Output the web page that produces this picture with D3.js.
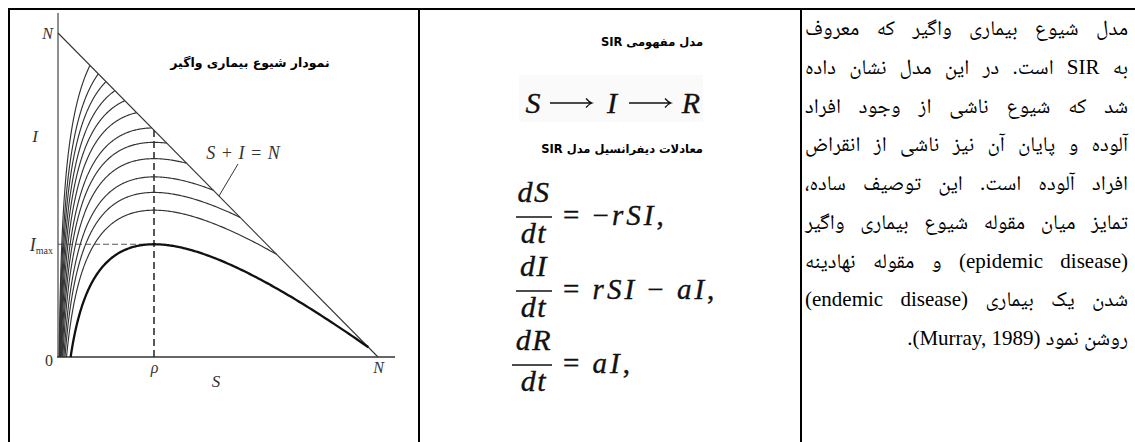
<!DOCTYPE html>
<html>
<head>
<meta charset="utf-8">
<script src="https://cdn.jsdelivr.net/npm/d3@7"></script>
<style>
  body { margin: 0; background: #fff; }
  #page { position: relative; width: 1135px; height: 442px; overflow: hidden; }
  #page svg { position: absolute; left: 0; top: 0; }
  .fa { position: absolute; direction: rtl; white-space: nowrap; color: #000; }
  .head { font-family: "DejaVu Sans", sans-serif; font-weight: bold; }
  .para { font-family: "Liberation Serif", "Noto Naskh Arabic", "DejaVu Sans", serif; text-align: right; }
</style>
</head>
<body>
<div id="page"></div>
<script>
// phase plane, all values as a fraction of N
var rho = 0.3;
var thinStarts = [0.10, 0.126, 0.15, 0.178, 0.209, 0.246, 0.293, 0.34, 0.402, 0.485, 0.569, 0.683];
var thickStart = 0.97;
var yTickLabels = ["0", "I", "N"];      // 0, I_max, N
var xTickLabels = ["ρ", "N"];
var chartTitle = "نمودار شیوع بیماری واگیر";
var lineLabel = "S + I = N";

// middle cell
var headings = ["مدل مفهومی SIR", "معادلات دیفرانسیل مدل SIR"];
var flow = ["S", "I", "R"];
var eqNum = ["dS", "dI", "dR"];
var eqRhs = ["= −rSI,", "= rSI − aI,", "= aI,"];

// right cell
var paraLines = [
  "مدل شیوع بیماری واگیر که معروف",
  "به SIR است. در این مدل نشان داده",
  "شد که شیوع ناشی از وجود افراد",
  "آلوده و پایان آن نیز ناشی از انقراض",
  "افراد آلوده است. این توصیف ساده،",
  "تمایز میان مقوله شیوع بیماری واگیر",
  "(epidemic disease) و مقوله نهادینه",
  "شدن یک بیماری (endemic disease)",
  "روشن نمود (Murray, 1989)."
];

var page = d3.select("#page");
var svg = page.append("svg").attr("width", 1135).attr("height", 442);

// table rules
svg.append("path")
  .attr("d", "M9,442V9H1135M419,9V442M801,9V442")
  .attr("fill", "none").attr("stroke", "#000").attr("stroke-width", 2);

// ---------- left cell: S-I phase plane ----------
var x = d3.scaleLinear().domain([0, 1]).range([58, 378]);
var y = d3.scaleLinear().domain([0, 1]).range([357, 33]);

// SIR phase relation: I = S0 + I0 - S + rho*ln(S/S0), starting on S + I = N
function phaseI(s, s0) { return 1 - s + rho * Math.log(s / s0); }

function trajectory(s0) {
  var lo = 1e-9, hi = Math.min(s0, rho);
  for (var k = 0; k < 60; k++) {
    var m = (lo + hi) / 2;
    if (phaseI(m, s0) > 0) hi = m; else lo = m;
  }
  return d3.range(0, 301).map(function(i) {
    var s = s0 * Math.pow(hi / s0, i / 300);
    return [s, Math.max(0, phaseI(s, s0))];
  });
}

var iMax = 1 - rho + rho * Math.log(rho / thickStart);

var line = d3.line()
  .x(function(d) { return x(d[0]); })
  .y(function(d) { return y(d[1]); });

var chart = svg.append("g").attr("class", "chart");

// axes lines
chart.append("line")
  .attr("x1", x(0)).attr("x2", x(0)).attr("y1", 13).attr("y2", y(0))
  .attr("stroke", "#333").attr("stroke-width", 1.1);
chart.append("line")
  .attr("x1", x(0) - 1).attr("x2", 395).attr("y1", y(0)).attr("y2", y(0))
  .attr("stroke", "#333").attr("stroke-width", 1.6);

// S + I = N
chart.append("path")
  .attr("d", line([[0, 1], [1, 0]]))
  .attr("fill", "none").attr("stroke", "#333").attr("stroke-width", 1.1);

// dashed guides
chart.append("line")
  .attr("x1", x(rho)).attr("x2", x(rho)).attr("y1", y(0)).attr("y2", y(1 - rho))
  .attr("stroke", "#222").attr("stroke-width", 1.5).attr("stroke-dasharray", "7,4");
chart.append("line")
  .attr("x1", x(0)).attr("x2", x(rho)).attr("y1", y(iMax)).attr("y2", y(iMax))
  .attr("stroke", "#444").attr("stroke-width", 0.9).attr("stroke-dasharray", "6,3");

// trajectories
chart.selectAll(".traj")
  .data(thinStarts)
  .enter().append("path")
  .attr("class", "traj")
  .attr("d", function(d) { return line(trajectory(d)); })
  .attr("fill", "none").attr("stroke", "#333").attr("stroke-width", 1.15);

chart.append("path")
  .attr("d", line(trajectory(thickStart)))
  .attr("fill", "none").attr("stroke", "#111").attr("stroke-width", 2.3);

// y tick labels
var yAxis = d3.axisLeft(y)
  .tickValues([0, iMax, 1])
  .tickSize(0).tickPadding(5)
  .tickFormat(function(d, i) { return yTickLabels[i]; });
var gy = chart.append("g").attr("transform", "translate(" + x(0) + ",0)").call(yAxis);
gy.select(".domain").remove();
gy.selectAll("text")
  .attr("font-family", "Liberation Serif, serif")
  .attr("font-size", function(d, i) { return i === 1 ? 18 : 16; })
  .attr("fill", "#333")
  .attr("font-style", function(d, i) { return i === 0 ? "normal" : "italic"; })
  .attr("dy", function(d, i) { return i === 0 ? "0.5em" : "0.32em"; });
gy.selectAll("text").filter(function(d, i) { return i === 1; })
  .append("tspan").attr("font-style", "normal").attr("font-size", 10).attr("dy", 3).text("max");

// x tick labels
var xAxis = d3.axisBottom(x)
  .tickValues([rho, 1])
  .tickSize(0).tickPadding(5)
  .tickFormat(function(d, i) { return xTickLabels[i]; });
var gx = chart.append("g").attr("transform", "translate(0," + y(0) + ")").call(xAxis);
gx.select(".domain").remove();
gx.selectAll("text")
  .attr("font-family", "Liberation Serif, serif").attr("font-size", 16)
  .attr("font-style", "italic").attr("fill", "#333");

// axis titles
chart.append("text").attr("x", 35).attr("y", 142).attr("text-anchor", "middle")
  .attr("font-family", "Liberation Serif, serif").attr("font-size", 17)
  .attr("font-style", "italic").attr("fill", "#333").text("I");
chart.append("text").attr("x", 216).attr("y", 387).attr("text-anchor", "middle")
  .attr("font-family", "Liberation Serif, serif").attr("font-size", 17)
  .attr("font-style", "italic").attr("fill", "#333").text("S");

// line label with leader
chart.append("text").attr("x", 243).attr("y", 159).attr("text-anchor", "middle")
  .attr("font-family", "Liberation Serif, serif").attr("font-size", 18)
  .attr("font-style", "italic").attr("fill", "#333").attr("word-spacing", 1)
  .text(lineLabel);
chart.append("line")
  .attr("x1", 238).attr("y1", 164).attr("x2", x(0.503)).attr("y2", y(0.497))
  .attr("stroke", "#333").attr("stroke-width", 1);

// title
chart.append("text").attr("x", 250).attr("y", 67).attr("text-anchor", "middle")
  .attr("direction", "rtl")
  .attr("font-family", "DejaVu Sans, sans-serif").attr("font-weight", "bold")
  .attr("font-size", 12.5).attr("fill", "#000")
  .text(chartTitle);

// ---------- middle cell ----------
page.selectAll(".head")
  .data(headings)
  .enter().append("div")
  .attr("class", "fa head")
  .style("right", (1135 - 703) + "px")
  .style("top", function(d, i) { return (i === 0 ? 33 : 140) + "px"; })
  .style("font-size", "11.5px")
  .style("line-height", "18px")
  .text(function(d) { return d; });

var mid = svg.append("g").attr("class", "mid")
  .attr("font-family", "Liberation Serif, serif").attr("fill", "#111");

mid.append("rect").attr("x", 519).attr("y", 75).attr("width", 184).attr("height", 47)
  .attr("fill", "#fafafa");

var flowX = d3.scalePoint().domain(flow).range([533, 691]);
mid.selectAll(".flow")
  .data(flow)
  .enter().append("text")
  .attr("class", "flow")
  .attr("x", function(d) { return flowX(d); })
  .attr("y", 113).attr("text-anchor", "middle")
  .attr("font-size", 30).attr("font-style", "italic")
  .attr("stroke", "#111").attr("stroke-width", 0.3)
  .text(function(d) { return d; });

// long arrows between the letters
mid.selectAll(".arrow")
  .data(flow.slice(0, -1))
  .enter().append("path")
  .attr("class", "arrow")
  .attr("d", function(d, i) {
    var a = flowX(flow[i]) + 17, b = flowX(flow[i + 1]) - 20, yy = 103;
    return "M" + a + "," + yy + "H" + b +
      "M" + (b - 6) + "," + (yy - 4.5) + "Q" + (b - 3) + "," + (yy - 1) + " " + b + "," + yy +
      "Q" + (b - 3) + "," + (yy + 1) + " " + (b - 6) + "," + (yy + 4.5);
  })
  .attr("fill", "none").attr("stroke", "#111").attr("stroke-width", 1.3);

function runs(str) { return str.match(/[A-Za-z]+|[^A-Za-z]+/g); }

var eq = mid.selectAll(".eq")
  .data(eqNum)
  .enter().append("g")
  .attr("class", "eq")
  .attr("stroke", "#111").attr("stroke-width", 0.35)
  .attr("transform", function(d, i) { return "translate(0," + (217 + i * 74) + ")"; });

var fracX = 534;
eq.append("text")
  .attr("x", fracX).attr("y", -15).attr("text-anchor", "middle")
  .attr("font-size", 30).attr("font-style", "italic").attr("letter-spacing", 1.5)
  .text(function(d) { return d; });
eq.append("text")
  .attr("x", fracX).attr("y", 26).attr("text-anchor", "middle")
  .attr("font-size", 30).attr("font-style", "italic").attr("letter-spacing", 1.5)
  .text("dt");
eq.append("line")
  .attr("x1", function(d, i) { return i === 2 ? 512 : 516; })
  .attr("x2", 552).attr("y1", 0).attr("y2", 0)
  .attr("stroke", "#111").attr("stroke-width", 1.6);

var rhs = eq.append("text")
  .attr("x", 563).attr("y", 8)
  .attr("font-size", 29).attr("letter-spacing", 3);
rhs.each(function(d, i) {
  var t = d3.select(this);
  runs(eqRhs[i]).forEach(function(r) {
    t.append("tspan")
      .attr("font-style", /[A-Za-z]/.test(r) ? "italic" : "normal")
      .text(r);
  });
});

// ---------- right cell: paragraph ----------
var boxLeft = 805, boxWidth = 323, lineStep = 38.75, firstCenter = 28, fs = 21;
var rows = page.selectAll(".para")
  .data(paraLines)
  .enter().append("div")
  .attr("class", "fa para")
  .style("left", boxLeft + "px")
  .style("width", boxWidth + "px")
  .style("top", function(d, i) { return (firstCenter + i * lineStep - 15) + "px"; })
  .style("height", "30px")
  .style("line-height", "30px")
  .style("font-size", fs + "px");
rows.append("span").text(function(d) { return d; });

rows.each(function(d, i) {
  var row = d3.select(this);
  var span = row.select("span").node();
  var w = span.getBoundingClientRect().width;
  if (w > boxWidth) {
    row.style("font-size", (fs * boxWidth / w * 0.99) + "px");
    w = span.getBoundingClientRect().width;
  }
  var gaps = (d.match(/ /g) || []).length;
  if (i < paraLines.length - 1 && gaps > 0) {
    row.style("word-spacing", ((boxWidth - w) / gaps) + "px");
  }
});
</script>
</body>
</html>
